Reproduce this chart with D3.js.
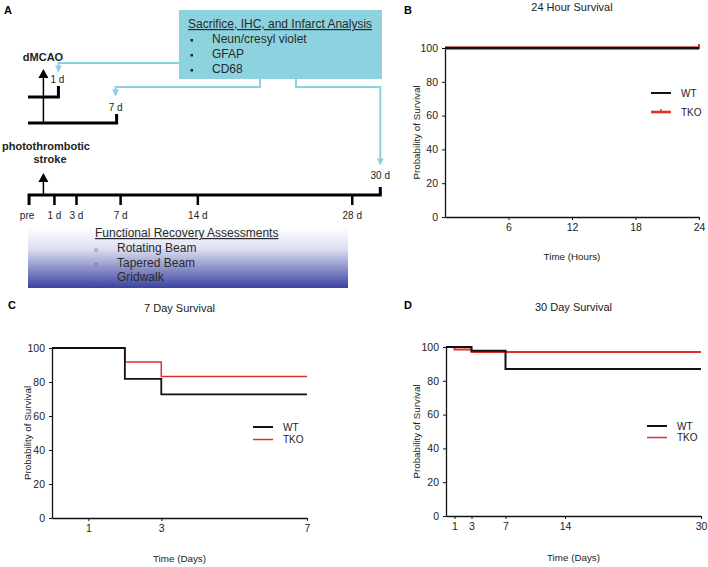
<!DOCTYPE html>
<html><head><meta charset="utf-8">
<script src="https://cdn.jsdelivr.net/npm/d3@7"></script>
<style>
body{margin:0;background:#fff;}
svg{font-family:"Liberation Sans",Arial,sans-serif;}
</style></head>
<body>
<svg id="fig" width="708" height="567"></svg>
<script>
// ---------- DATA ----------
const seriesNames = ["WT", "TKO"];
const seriesColors = ["#111111", "#e0302c"];

// Panel B: 24 hour survival
const b_times_WT = [0, 24];
const b_surv_WT = [100, 100];
const b_times_TKO = [0, 24];
const b_surv_TKO = [100, 100];
const b_xTicks = [6, 12, 18, 24];

// Panel C: 7 day survival
const c_times_WT = [0, 2, 3, 7];
const c_surv_WT = [100, 81.8, 72.7, 72.7];
const c_times_TKO = [0, 2, 3, 7];
const c_surv_TKO = [100, 91.7, 83.3, 83.3];
const c_xTicks = [1, 3, 7];

// Panel D: 30 day survival
const d_times_WT = [0, 3, 7, 30];
const d_surv_WT = [100, 97.8, 87.0, 87.0];
const d_times_TKO = [0, 1, 3, 30];
const d_surv_TKO = [100, 98.5, 97.0, 97.0];
const d_xTicks = [1, 3, 7, 14, 30];

const yTicks = [0, 20, 40, 60, 80, 100];

// Panel A: timeline
const timelineDays = [1, 3, 7, 14, 28];
const timelineLabels = ["1 d", "3 d", "7 d", "14 d", "28 d"];
const preDay = -1.3;
const endDay = 30;
const sacrificeTitle = "Sacrifice, IHC, and Infarct Analysis";
const sacrificeItems = ["Neun/cresyl violet", "GFAP", "CD68"];
const recoveryTitle = "Functional Recovery Assessments";
const recoveryItems = ["Rotating Beam", "Tapered Beam", "Gridwalk"];

// ---------- DRAW ----------
const svg = d3.select("#fig");
const defs = svg.append("defs");
const grad = defs.append("linearGradient").attr("id","fra").attr("x1",0).attr("y1",0).attr("x2",0).attr("y2",1);
grad.append("stop").attr("offset","0%").attr("stop-color","#ffffff");
grad.append("stop").attr("offset","35%").attr("stop-color","#dfe1f1");
grad.append("stop").attr("offset","100%").attr("stop-color","#3a43a0");

const blue = "#8ad2e2";
defs.append("marker").attr("id","arr").attr("viewBox","0 0 10 10").attr("refX",8).attr("refY",5)
  .attr("markerWidth",3.5).attr("markerHeight",3.5).attr("orient","auto")
  .append("path").attr("d","M0,0 L10,5 L0,10 Z").attr("fill",blue);

function panelLetter(t,x,y){
  svg.append("text").attr("x",x).attr("y",y).attr("font-size",11).attr("font-weight","bold").text(t);
}

function survivalPanel(o){
  const x = d3.scaleLinear().domain(o.xDomain).range(o.xRange);
  const y = d3.scaleLinear().domain([0,100]).range(o.yRange);
  const g = svg.append("g");
  g.append("text").attr("x",(o.xRange[0]+o.xRange[1])/2).attr("y",o.titleY).attr("text-anchor","middle")
    .attr("font-size",11).attr("fill","#222").text(o.title);
  const xa = g.append("g").attr("transform",`translate(0,${o.yRange[0]})`)
    .call(d3.axisBottom(x).tickValues(o.xTicks).tickFormat(d3.format("d")).tickSize(3).tickPadding(4).tickSizeOuter(0));
  const ya = g.append("g").attr("transform",`translate(${o.xRange[0]},0)`)
    .call(d3.axisLeft(y).tickValues(yTicks).tickFormat(d3.format("d")).tickSize(3).tickPadding(4).tickSizeOuter(0));
  [xa,ya].forEach(a=>{a.selectAll("text").attr("font-size",10.5).attr("fill","#222").attr("font-family","Liberation Sans, Arial, sans-serif");
    a.select(".domain").attr("stroke","#111").attr("stroke-width",1.3);
    a.selectAll(".tick line").attr("stroke","#111").attr("stroke-width",1);});
  g.append("text").attr("transform",`translate(${o.yLabelX},${(o.yRange[0]+o.yRange[1])/2}) rotate(-90)`)
    .attr("text-anchor","middle").attr("font-size",9.8).attr("fill","#222").text("Probability of Survival");
  g.append("text").attr("x",(o.xRange[0]+o.xRange[1])/2 + (o.xLabelDx||0)).attr("y",o.xLabelY).attr("text-anchor","middle")
    .attr("font-size",9.8).attr("fill","#222").text(o.xLabel);
  const line = d3.line().x(d=>x(d[0])).y(d=>y(d[1])).curve(d3.curveStepAfter);
  // draw TKO first then WT on top
  [1,0].forEach(i=>{
    const s = o.series[i];
    const pts = s.t.map((t,k)=>[t,s.v[k]]);
    g.append("path").attr("d",line(pts)).attr("fill","none").attr("stroke",seriesColors[i])
      .attr("stroke-width",o.widths[i]);
    if(o.censor && i===1){
      const last = pts[pts.length-1];
      g.append("line").attr("x1",x(last[0])).attr("x2",x(last[0])).attr("y1",y(last[1])-4).attr("y2",y(last[1])+1)
        .attr("stroke",seriesColors[1]).attr("stroke-width",2);
    }
  });
  // legend
  seriesNames.forEach((n,i)=>{
    const ly = o.legY + i*o.legDy;
    g.append("line").attr("x1",o.legX).attr("x2",o.legX+20).attr("y1",ly).attr("y2",ly)
      .attr("stroke",seriesColors[i]).attr("stroke-width", o.legW[i]);
    if(o.censor && i===1){
      g.append("line").attr("x1",o.legX+10).attr("x2",o.legX+10).attr("y1",ly-3).attr("y2",ly)
        .attr("stroke",seriesColors[1]).attr("stroke-width",1.5);
    }
    g.append("text").attr("x",o.legX+30).attr("y",ly+3.5).attr("font-size",10).attr("fill","#222").text(n);
  });
}

survivalPanel({title:"24 Hour Survival", titleY:11, xDomain:[0,24], xRange:[445,699], yRange:[217,48],
  xTicks:b_xTicks, yLabelX:420, xLabel:"Time (Hours)", xLabelY:260,
  series:[{t:b_times_WT,v:b_surv_WT},{t:b_times_TKO,v:b_surv_TKO}], widths:[2.4,3], censor:true,
  legX:651, legY:93, legDy:19, legW:[2,2.6]});
survivalPanel({title:"7 Day Survival", titleY:312, xDomain:[0,7], xRange:[52,307], yRange:[518,348],
  xTicks:c_xTicks, yLabelX:31, xLabel:"Time (Days)", xLabelY:562,
  series:[{t:c_times_WT,v:c_surv_WT},{t:c_times_TKO,v:c_surv_TKO}], widths:[1.8,1.5], censor:false,
  legX:253, legY:427, legDy:12.5, legW:[2,1.5]});
survivalPanel({title:"30 Day Survival", titleY:311, xDomain:[0,30], xRange:[446,701], yRange:[516,347],
  xTicks:d_xTicks, yLabelX:420, xLabel:"Time (Days)", xLabelY:561,
  series:[{t:d_times_WT,v:d_surv_WT},{t:d_times_TKO,v:d_surv_TKO}], widths:[2,2], censor:false,
  legX:647, legY:426, legDy:11.5, legW:[2,1.5]});

panelLetter("A",4,14);
panelLetter("B",404,14);
panelLetter("C",8,309);
panelLetter("D",404,309);

// ---------- Panel A timeline ----------
const tx = d3.scaleLinear().domain([0,30]).range([43.4, 374.3]);
const A = svg.append("g").attr("fill","#222");
const lineY = 195, bar1Y = 97, bar2Y = 123;
const arrowX = tx(0);

// sacrifice box
const boxX0 = 179, boxX1 = 382, boxY0 = 10, boxY1 = 79;
A.append("rect").attr("x",boxX0).attr("y",boxY0).attr("width",boxX1-boxX0).attr("height",boxY1-boxY0).attr("fill","#8dd3df");
A.append("text").attr("x",188).attr("y",28).attr("font-size",12).attr("text-decoration","underline").attr("fill","#2a2a2a").text(sacrificeTitle);
sacrificeItems.forEach((s,i)=>{
  A.append("rect").attr("x",190.5).attr("y",39+i*15).attr("width",2.5).attr("height",2.5).attr("fill","#222");
  A.append("text").attr("x",212).attr("y",43+i*15).attr("font-size",12).attr("fill","#2a2a2a").text(s);
});

// blue connectors
const conn = (pts)=>A.append("path").attr("d",d3.line()(pts)).attr("fill","none").attr("stroke",blue)
  .attr("stroke-width",2).attr("stroke-linejoin","miter").attr("marker-end","url(#arr)");
conn([[boxX0,63],[tx(1)+4,63],[tx(1)+4,71]]);
conn([[260,boxY1],[260,87],[tx(7)-5,87],[tx(7)-5,95]]);
conn([[296,boxY1],[296,87],[tx(endDay)+6,87],[tx(endDay)+6,164]]);

// dMCAO
A.append("text").attr("x",43).attr("y",61).attr("text-anchor","middle").attr("font-size",11).attr("font-weight","bold").text("dMCAO");
A.append("path").attr("d",`M${arrowX-5},78 L${arrowX+5},78 L${arrowX},69 Z`).attr("fill","#000");
A.append("line").attr("x1",arrowX).attr("x2",arrowX).attr("y1",77).attr("y2",bar2Y).attr("stroke","#000").attr("stroke-width",1.5);
// bar 1 (1 d)
A.append("path").attr("d",`M28,${bar1Y} H${tx(1)+4} V86`).attr("fill","none").attr("stroke","#000").attr("stroke-width",3);
A.append("text").attr("x",tx(1)+3).attr("y",83).attr("text-anchor","middle").attr("font-size",10).text("1 d");
// bar 2 (7 d)
A.append("path").attr("d",`M28,${bar2Y} H${tx(7)-4} V114`).attr("fill","none").attr("stroke","#000").attr("stroke-width",3);
A.append("text").attr("x",tx(7)-5).attr("y",111).attr("text-anchor","middle").attr("font-size",10).text("7 d");

// photothrombotic
A.append("text").attr("x",46).attr("y",150).attr("text-anchor","middle").attr("font-size",11).attr("font-weight","bold").text("photothrombotic");
A.append("text").attr("x",50).attr("y",163).attr("text-anchor","middle").attr("font-size",11).attr("font-weight","bold").text("stroke");
A.append("path").attr("d",`M${arrowX-5},182 L${arrowX+5},182 L${arrowX},173 Z`).attr("fill","#000");
A.append("line").attr("x1",arrowX).attr("x2",arrowX).attr("y1",181).attr("y2",lineY).attr("stroke","#000").attr("stroke-width",1.5);
// main line
A.append("path").attr("d",`M${tx(preDay)},${lineY+10} V${lineY} H${tx(endDay)+6} V187`).attr("fill","none").attr("stroke","#000").attr("stroke-width",3);
timelineDays.forEach((d,i)=>{
  A.append("line").attr("x1",tx(d)).attr("x2",tx(d)).attr("y1",lineY).attr("y2",lineY+10).attr("stroke","#000").attr("stroke-width",2.5);
  A.append("text").attr("x",tx(d)).attr("y",219).attr("text-anchor","middle").attr("font-size",10).text(timelineLabels[i]);
});
A.append("text").attr("x",tx(preDay)-2).attr("y",219).attr("text-anchor","middle").attr("font-size",10).text("pre");
A.append("text").attr("x",tx(endDay)+6).attr("y",179).attr("text-anchor","middle").attr("font-size",10).text("30 d");

// functional recovery box
A.append("rect").attr("x",28).attr("y",227).attr("width",320).attr("height",61).attr("fill","url(#fra)");
A.append("text").attr("x",95).attr("y",237).attr("font-size",12).attr("text-decoration","underline").attr("fill","#2a2a2a").text(recoveryTitle);
recoveryItems.forEach((s,i)=>{
  A.append("rect").attr("x",95).attr("y",249+i*14.5).attr("width",2.5).attr("height",2.5).attr("fill","none").attr("stroke","#777").attr("stroke-width",0.6);
  A.append("text").attr("x",117).attr("y",252+i*14.5).attr("font-size",12).attr("fill","#2a2a2a").text(s);
});
</script>
</body></html>
